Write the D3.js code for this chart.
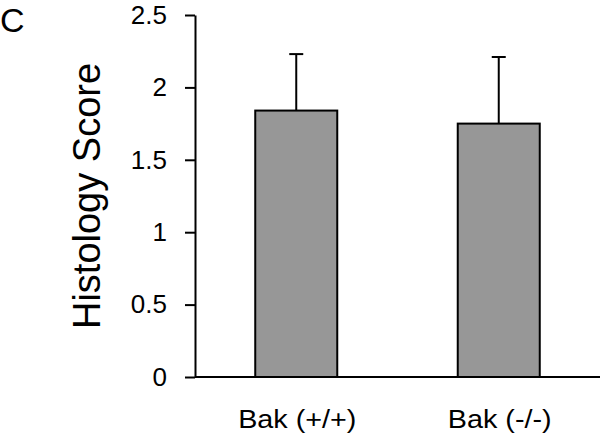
<!DOCTYPE html>
<html>
<head>
<meta charset="utf-8">
<script src="https://cdn.jsdelivr.net/npm/d3@7"></script>
<style>
  body { margin: 0; background: #fff; }
  text { font-family: "Liberation Sans", Arial, sans-serif; fill: #000; }
</style>
</head>
<body>
<div id="chart"></div>
<script>
// data
var groups = ["Bak (+/+)", "Bak (-/-)"];
var means = [1.84, 1.75];
var errs = [0.39, 0.46];
var yTicks = [0, 0.5, 1, 1.5, 2, 2.5];

var W = 600, H = 437;
var svg = d3.select("#chart").append("svg").attr("width", W).attr("height", H);

// plot edges (note: "top" is reserved on window, so use other names)
var plotL = 195, plotR = 600, plotT = 15, plotB = 377;

var x = d3.scaleBand()
  .domain(groups)
  .range([plotL, plotR])
  .paddingInner(0.595)
  .paddingOuter(0.2975);

var y = d3.scaleLinear()
  .domain([0, 2.5])
  .range([plotB, plotT]);

// y axis
var yAxis = svg.append("g")
  .attr("transform", "translate(" + plotL + ",0)")
  .call(d3.axisLeft(y).tickValues(yTicks).tickFormat(d3.format("")).tickSize(10).tickSizeOuter(0).tickPadding(18));
yAxis.select(".domain").attr("stroke", "#000").attr("stroke-width", 2);
yAxis.selectAll(".tick line").attr("stroke", "#000").attr("stroke-width", 2);
yAxis.selectAll(".tick text")
  .attr("font-size", "26px")
  .attr("font-family", "Liberation Sans, Arial, sans-serif")
  .attr("fill", "#000");

// bars
svg.append("g").selectAll("rect")
  .data(groups)
  .enter().append("rect")
  .attr("x", function(d) { return x(d); })
  .attr("y", function(d, i) { return y(means[i]); })
  .attr("width", x.bandwidth())
  .attr("height", function(d, i) { return y(0) - y(means[i]); })
  .attr("fill", "#979797")
  .attr("stroke", "#000")
  .attr("stroke-width", 2);

// error bars (upper only)
var eb = svg.append("g").selectAll("g")
  .data(groups)
  .enter().append("g");
eb.append("line")
  .attr("x1", function(d) { return x(d) + x.bandwidth() / 2; })
  .attr("x2", function(d) { return x(d) + x.bandwidth() / 2; })
  .attr("y1", function(d, i) { return y(means[i]); })
  .attr("y2", function(d, i) { return y(means[i] + errs[i]); })
  .attr("stroke", "#000").attr("stroke-width", 2);
eb.append("line")
  .attr("x1", function(d) { return x(d) + x.bandwidth() / 2 - 7; })
  .attr("x2", function(d) { return x(d) + x.bandwidth() / 2 + 7; })
  .attr("y1", function(d, i) { return y(means[i] + errs[i]); })
  .attr("y2", function(d, i) { return y(means[i] + errs[i]); })
  .attr("stroke", "#000").attr("stroke-width", 2);

// x axis line
svg.append("line")
  .attr("x1", plotL).attr("x2", plotR)
  .attr("y1", y(0)).attr("y2", y(0))
  .attr("stroke", "#000").attr("stroke-width", 2);

// category labels
svg.append("g").selectAll("text")
  .data(groups)
  .enter().append("text")
  .attr("transform", function(d) { return "translate(" + (x(d) + x.bandwidth() / 2 + 1) + ",428) scale(1.15,1)"; })
  .attr("text-anchor", "middle")
  .attr("font-size", "25px")
  .text(function(d) { return d; });

// y title
svg.append("text")
  .attr("transform", "translate(100," + ((plotT + plotB) / 2) + ") rotate(-90)")
  .attr("text-anchor", "middle")
  .attr("font-size", "38px")
  .text("Histology Score");

// panel letter
svg.append("text")
  .attr("x", 0)
  .attr("y", 32)
  .attr("font-size", "34px")
  .text("C");
</script>
</body>
</html>
